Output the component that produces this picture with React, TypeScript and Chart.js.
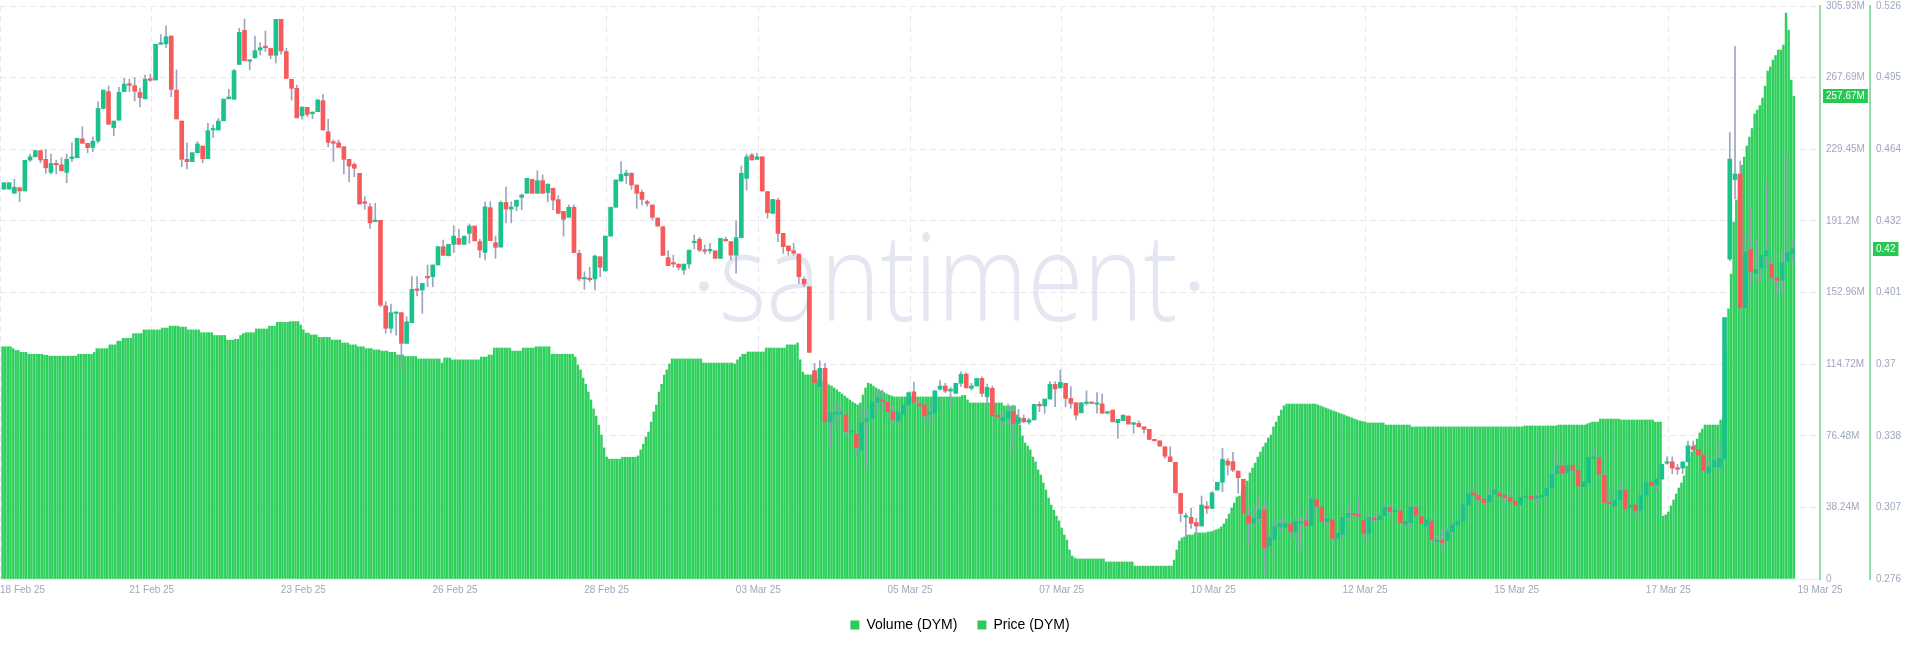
import React, { useEffect, useRef } from 'react';
import { Chart, registerables } from 'chart.js';

Chart.register(...registerables);

// ---- tick labels ----
const X_LABELS = ['18 Feb 25', '21 Feb 25', '23 Feb 25', '26 Feb 25', '28 Feb 25', '03 Mar 25', '05 Mar 25', '07 Mar 25', '10 Mar 25', '12 Mar 25', '15 Mar 25', '17 Mar 25', '19 Mar 25'];
const VOL_TICK_LABELS = ['0', '38.24M', '76.48M', '114.72M', '152.96M', '191.2M', '229.45M', '267.69M', '305.93M'];
const PRICE_TICK_LABELS = ['0.276', '0.307', '0.338', '0.37', '0.401', '0.432', '0.464', '0.495', '0.526'];

const VOL_MAX = 305.93;
const PRICE_MIN = 0.276;
const PRICE_MAX = 0.526;
const HOURS_PER_LABEL = 58;

// ---- Volume (DYM), millions, hourly ----
const VOLUME = [
  124, 124, 124, 124, 123, 122, 122, 121, 121, 121,
  120, 120, 120, 120, 120, 120, 119.5, 119.5, 119, 119,
  119, 119, 119, 119, 119, 119, 119, 119, 119, 120,
  120, 120, 120, 120, 120, 121, 123, 123, 123, 123,
  123, 125, 125, 125, 127, 127, 128.5, 128.5, 128.5, 128.5,
  131, 131, 131, 131, 133, 133, 133, 133, 133, 133,
  133, 134, 134, 134, 135, 135, 135, 135, 134.5, 134.5,
  134.5, 133, 133, 133, 133, 133, 131.5, 131.5, 131.5, 131.5,
  131.5, 130, 130, 130, 130, 130, 127.5, 127.5, 127.5, 128,
  128, 130, 131, 131.5, 131.5, 131.5, 131.5, 133.5, 133.5, 133.5,
  133.5, 133.5, 135, 135, 135, 137, 137, 137, 137, 137,
  137.5, 137.5, 137.5, 137.5, 135.6, 133, 131.3, 131.3, 130.3, 130.3,
  130.3, 129, 129, 129, 129, 129, 127.6, 127.6, 127.6, 127.6,
  126, 126, 126, 125, 125, 125, 124, 124, 124, 123,
  123, 123, 122.3, 122.3, 122.3, 121.7, 121.7, 121.7, 121, 121,
  121, 119.6, 119.6, 119.6, 118.8, 118.8, 118.8, 118.8, 118.8, 117.5,
  117.5, 117.5, 117.5, 117.5, 117.5, 117.5, 117.5, 117.5, 115.3, 118,
  118, 118, 117, 117, 117, 117, 117, 117, 117, 117,
  117, 117, 117, 118.5, 118.5, 118.5, 119.6, 119.6, 123.3, 123.3,
  123.3, 123.3, 123.3, 123.3, 123.3, 121.7, 121.7, 121.7, 121.7, 123.3,
  123.3, 123.3, 123.3, 123.3, 124, 124, 124, 124, 124, 124,
  120, 120, 120, 120, 120, 120, 120, 120, 120, 118.5,
  114.3, 111.6, 107.3, 104, 99.8, 95.6, 90.8, 87, 82.2, 76.9,
  70, 65.1, 64, 64, 64, 64, 64, 65, 65, 65,
  65, 65, 65, 65.7, 68.9, 72, 75.8, 78.5, 83.8, 89.2,
  92.9, 99.8, 104, 108.9, 111.6, 114.8, 117.5, 117.5, 117.5, 117.5,
  117.5, 117.5, 117.5, 117.5, 117.5, 117.5, 117.5, 117.5, 115.3, 115.3,
  115.3, 115.3, 115.3, 115.3, 115.3, 115.3, 115.3, 115.3, 115.3, 115.3,
  114.8, 117, 118.5, 120, 120, 121.2, 121.2, 121.2, 121.2, 121.2,
  121.2, 121.2, 123.3, 123.3, 123.3, 123.3, 123.3, 123.3, 123.3, 123.3,
  125, 125, 125, 125, 126, 117, 110.5, 109, 109, 109,
  109, 109, 106.2, 105.7, 105.2, 104.6, 103.6, 103, 102, 101,
  99.8, 98.8, 97.7, 96.6, 95.6, 94.5, 93.7, 92.9, 94, 98.2,
  102, 104.6, 104.1, 103, 102, 101.2, 100.4, 99.6, 98.8, 98.2,
  97.7, 97.2, 97.2, 97.2, 97.2, 97.2, 97.2, 97.2, 97.2, 97.2,
  97.2, 97.2, 97.2, 97.2, 97.2, 97.2, 97.2, 97.2, 97.2, 97.2,
  97.2, 97.2, 97.2, 97.2, 97.2, 97.2, 97.2, 98, 98, 95.6,
  94, 94, 94, 94, 94, 94, 94, 94, 94, 94,
  94, 94, 94, 92.4, 92.4, 92.4, 92.4, 92.4, 87.6, 82.2,
  76.3, 72.6, 71, 68.9, 65.1, 62.5, 58.2, 55.5, 51.3, 47.5,
  43.2, 39.5, 36.8, 33.6, 31, 27.2, 23.5, 20.8, 15.5, 12.3,
  11.2, 10.7, 10.7, 10.7, 10.7, 10.7, 10.7, 10.7, 10.7, 10.7,
  10.7, 10.7, 9.1, 9.1, 9.1, 9.1, 9.1, 9.1, 9.1, 9.1,
  9.1, 9.1, 9.1, 6.9, 6.9, 6.9, 6.9, 6.9, 6.9, 6.9,
  6.9, 6.9, 6.9, 6.9, 6.9, 6.9, 6.9, 6.9, 10.1, 15.5,
  20.3, 21.9, 22.4, 23.5, 23.5, 23.5, 24.6, 24.6, 24.6, 24.6,
  24.6, 25.1, 25.1, 25.6, 26.2, 26.7, 27.8, 29.4, 32, 34.7,
  37.9, 40.6, 43.8, 44.3, 47, 49.7, 52.3, 56.6, 59.3, 61.9,
  65.1, 67.8, 70.5, 72.6, 75.3, 76.9, 81.2, 83.8, 87, 90.2,
  92.4, 93.4, 93.4, 93.4, 93.4, 93.4, 93.4, 93.4, 93.4, 93.4,
  93.4, 93.4, 93.4, 92.9, 92.4, 91.8, 91.3, 90.8, 90.2, 89.7,
  89.2, 88.6, 88.1, 87.6, 87, 86.5, 86, 85.4, 84.9, 84.4,
  84.1, 83.8, 83.3, 83.3, 83.3, 83.3, 83.3, 83.3, 83.3, 82.2,
  82.2, 82.2, 82.2, 82.2, 82.2, 82.2, 82.2, 82.2, 82.2, 81.2,
  81.2, 81.2, 81.2, 81.2, 81.2, 81.2, 81.2, 81.2, 81.2, 81.2,
  81.2, 81.2, 81.2, 81.2, 81.2, 81.2, 81.2, 81.2, 81.2, 81.2,
  81.2, 81.2, 81.2, 81.2, 81.2, 81.2, 81.2, 81.2, 81.2, 81.2,
  81.2, 81.2, 81.2, 81.2, 81.2, 81.2, 81.2, 81.2, 81.2, 81.2,
  81.2, 81.2, 81.7, 81.7, 81.7, 81.7, 81.7, 81.7, 81.7, 81.7,
  81.7, 81.7, 81.7, 81.7, 81.7, 82.2, 82.2, 82.2, 82.2, 82.2,
  82.2, 82.2, 82.2, 82.2, 82.2, 82.2, 82.8, 83.3, 83.8, 83.8,
  83.8, 85.4, 85.4, 85.4, 85.4, 85.4, 85.4, 85.4, 85.4, 84.9,
  84.9, 84.9, 84.9, 84.9, 84.9, 84.9, 84.9, 84.9, 84.9, 84.9,
  84.9, 84.9, 83.8, 83.8, 83.8, 33.6, 34.2, 35.8, 39, 42.2,
  45.4, 48.6, 51.3, 55, 60.3, 64.6, 67.8, 71.5, 74.7, 78,
  80.1, 82.2, 82.2, 82.2, 82.2, 82.2, 82.2, 84.9, 86, 122,
  144.2, 162.8, 190.6, 202.3, 215.2, 221, 225.3, 231.2, 236, 240.5,
  248.3, 250.4, 252.8, 256.8, 263.2, 271.2, 273.4, 277.1, 279.5, 282.4,
  282.4, 285.1, 302.2, 293.1, 266.4, 257.67,
];

// ---- Price (DYM), 2-hour candles: [open, high, low, close] ----
const PRICE_OHLC = [
  [0.4461, 0.4489, 0.4461, 0.4489], [0.4461, 0.4489, 0.4461, 0.4489], [0.4443, 0.4504, 0.4443, 0.4469], [0.4467, 0.4467, 0.4406, 0.4453],
  [0.4453, 0.4587, 0.4453, 0.4587], [0.4588, 0.4614, 0.4581, 0.4602], [0.4602, 0.4629, 0.4602, 0.4629], [0.4629, 0.4629, 0.4576, 0.4588],
  [0.4591, 0.4635, 0.4530, 0.4554], [0.4534, 0.4614, 0.4526, 0.4573], [0.4573, 0.4588, 0.4527, 0.4567], [0.4567, 0.4598, 0.4541, 0.4541],
  [0.4534, 0.4614, 0.4489, 0.4591], [0.4594, 0.4663, 0.4581, 0.4602], [0.4598, 0.4683, 0.4598, 0.4683], [0.4680, 0.4733, 0.4661, 0.4661],
  [0.4661, 0.4661, 0.4620, 0.4642], [0.4643, 0.4688, 0.4624, 0.4670], [0.4671, 0.4842, 0.4663, 0.4813], [0.4813, 0.4893, 0.4813, 0.4893],
  [0.4886, 0.4911, 0.4744, 0.4744], [0.4729, 0.4758, 0.4694, 0.4758], [0.4762, 0.4905, 0.4762, 0.4883], [0.4886, 0.4944, 0.4886, 0.4919],
  [0.4921, 0.4941, 0.4886, 0.4914], [0.4912, 0.4947, 0.4845, 0.4888], [0.4883, 0.4901, 0.4820, 0.4860], [0.4855, 0.4959, 0.4855, 0.4941],
  [0.4943, 0.4963, 0.4931, 0.4936], [0.4937, 0.5093, 0.4937, 0.5093], [0.5093, 0.5135, 0.5093, 0.5095], [0.5095, 0.5174, 0.5078, 0.5126],
  [0.5129, 0.5129, 0.4864, 0.4896], [0.4893, 0.4981, 0.4767, 0.4767], [0.4758, 0.4758, 0.4559, 0.4591], [0.4591, 0.4663, 0.4549, 0.4581],
  [0.4581, 0.4620, 0.4581, 0.4620], [0.4620, 0.4668, 0.4620, 0.4658], [0.4649, 0.4649, 0.4576, 0.4594], [0.4594, 0.4748, 0.4594, 0.4716],
  [0.4719, 0.4741, 0.4687, 0.4726], [0.4719, 0.4770, 0.4719, 0.4758], [0.4759, 0.4854, 0.4759, 0.4854], [0.4855, 0.4896, 0.4855, 0.4863],
  [0.4853, 0.4984, 0.4853, 0.4978], [0.5005, 0.5163, 0.5005, 0.5145], [0.5154, 0.5203, 0.5021, 0.5021], [0.5019, 0.5024, 0.4981, 0.5024],
  [0.5034, 0.5129, 0.5031, 0.5065], [0.5068, 0.5100, 0.5046, 0.5078], [0.5082, 0.5151, 0.5061, 0.5078], [0.5075, 0.5075, 0.5030, 0.5045],
  [0.5045, 0.5202, 0.5012, 0.5202], [0.5202, 0.5202, 0.5050, 0.5064], [0.5061, 0.5075, 0.4944, 0.4944], [0.4940, 0.4940, 0.4850, 0.4901],
  [0.4901, 0.4915, 0.4772, 0.4772], [0.4781, 0.4819, 0.4766, 0.4819], [0.4818, 0.4818, 0.4777, 0.4787], [0.4790, 0.4799, 0.4768, 0.4797],
  [0.4799, 0.4853, 0.4799, 0.4850], [0.4847, 0.4875, 0.4719, 0.4719], [0.4711, 0.4766, 0.4646, 0.4665], [0.4665, 0.4675, 0.4582, 0.4661],
  [0.4663, 0.4675, 0.4643, 0.4643], [0.4646, 0.4646, 0.4527, 0.4591], [0.4591, 0.4591, 0.4493, 0.4562], [0.4569, 0.4576, 0.4515, 0.4552],
  [0.4530, 0.4530, 0.4396, 0.4396], [0.4405, 0.4428, 0.4373, 0.4399], [0.4384, 0.4399, 0.4290, 0.4314], [0.4319, 0.4399, 0.4319, 0.4326],
  [0.4325, 0.4325, 0.3948, 0.3955], [0.3952, 0.3970, 0.3832, 0.3854], [0.3854, 0.3960, 0.3834, 0.3922], [0.3919, 0.3922, 0.3824, 0.3922],
  [0.3922, 0.3922, 0.3672, 0.3788], [0.3788, 0.3904, 0.3788, 0.3882], [0.3878, 0.4079, 0.3878, 0.4024], [0.4024, 0.4079, 0.3995, 0.4019],
  [0.4021, 0.4050, 0.3919, 0.4050], [0.4080, 0.4130, 0.4035, 0.4074], [0.4079, 0.4130, 0.4035, 0.4130], [0.4130, 0.4210, 0.4130, 0.4210],
  [0.4210, 0.4239, 0.4172, 0.4172], [0.4170, 0.4220, 0.4170, 0.4220], [0.4220, 0.4301, 0.4184, 0.4256], [0.4246, 0.4286, 0.4220, 0.4220],
  [0.4220, 0.4256, 0.4220, 0.4256], [0.4268, 0.4309, 0.4225, 0.4300], [0.4300, 0.4300, 0.4235, 0.4235], [0.4232, 0.4242, 0.4162, 0.4195],
  [0.4185, 0.4406, 0.4152, 0.4384], [0.4380, 0.4406, 0.4236, 0.4236], [0.4227, 0.4256, 0.4159, 0.4207], [0.4208, 0.4409, 0.4208, 0.4403],
  [0.4403, 0.4471, 0.4314, 0.4374], [0.4374, 0.4406, 0.4314, 0.4383], [0.4386, 0.4413, 0.4367, 0.4413], [0.4425, 0.4440, 0.4370, 0.4435],
  [0.4443, 0.4508, 0.4443, 0.4508], [0.4504, 0.4504, 0.4443, 0.4443], [0.4443, 0.4541, 0.4443, 0.4498], [0.4498, 0.4523, 0.4443, 0.4443],
  [0.4446, 0.4483, 0.4406, 0.4483], [0.4465, 0.4465, 0.4370, 0.4413], [0.4415, 0.4432, 0.4355, 0.4355], [0.4364, 0.4364, 0.4256, 0.4329],
  [0.4338, 0.4392, 0.4338, 0.4382], [0.4382, 0.4392, 0.4184, 0.4184], [0.4181, 0.4195, 0.4061, 0.4069], [0.4069, 0.4101, 0.4024, 0.4072],
  [0.4070, 0.4120, 0.4057, 0.4066], [0.4069, 0.4173, 0.4021, 0.4169], [0.4166, 0.4166, 0.4079, 0.4120], [0.4104, 0.4256, 0.4104, 0.4256],
  [0.4256, 0.4382, 0.4256, 0.4382], [0.4382, 0.4501, 0.4382, 0.4501], [0.4496, 0.4581, 0.4496, 0.4526], [0.4520, 0.4544, 0.4486, 0.4531],
  [0.4530, 0.4533, 0.4460, 0.4479], [0.4479, 0.4479, 0.4377, 0.4443], [0.4447, 0.4457, 0.4392, 0.4416], [0.4406, 0.4413, 0.4387, 0.4399],
  [0.4392, 0.4392, 0.4326, 0.4338], [0.4335, 0.4335, 0.4297, 0.4300], [0.4297, 0.4297, 0.4172, 0.4172], [0.4162, 0.4192, 0.4127, 0.4127],
  [0.4137, 0.4173, 0.4120, 0.4134], [0.4134, 0.4134, 0.4108, 0.4120], [0.4108, 0.4134, 0.4089, 0.4134], [0.4134, 0.4195, 0.4115, 0.4195],
  [0.4227, 0.4261, 0.4200, 0.4232], [0.4242, 0.4251, 0.4188, 0.4195], [0.4192, 0.4217, 0.4178, 0.4190], [0.4192, 0.4225, 0.4181, 0.4198],
  [0.4192, 0.4192, 0.4159, 0.4159], [0.4159, 0.4246, 0.4159, 0.4246], [0.4242, 0.4251, 0.4235, 0.4235], [0.4232, 0.4232, 0.4152, 0.4173],
  [0.4173, 0.4323, 0.4094, 0.4249], [0.4249, 0.4562, 0.4249, 0.4530], [0.4508, 0.4614, 0.4457, 0.4602], [0.4610, 0.4617, 0.4588, 0.4588],
  [0.4591, 0.4617, 0.4591, 0.4602], [0.4602, 0.4602, 0.4453, 0.4453], [0.4450, 0.4450, 0.4334, 0.4358], [0.4355, 0.4416, 0.4355, 0.4416],
  [0.4413, 0.4421, 0.4232, 0.4268], [0.4268, 0.4268, 0.4181, 0.4210], [0.4213, 0.4213, 0.4173, 0.4192], [0.4192, 0.4225, 0.4173, 0.4181],
  [0.4178, 0.4178, 0.4050, 0.4079], [0.4068, 0.4077, 0.4035, 0.4047], [0.4035, 0.4035, 0.3749, 0.3749], [0.3669, 0.3701, 0.3616, 0.3616],
  [0.3599, 0.3712, 0.3592, 0.3679], [0.3679, 0.3701, 0.3446, 0.3446], [0.3446, 0.3485, 0.3330, 0.3485], [0.3480, 0.3526, 0.3417, 0.3485],
  [0.3480, 0.3519, 0.3461, 0.3485], [0.3476, 0.3476, 0.3384, 0.3403], [0.3400, 0.3432, 0.3396, 0.3406], [0.3392, 0.3392, 0.3296, 0.3334],
  [0.3323, 0.3515, 0.3323, 0.3442], [0.3446, 0.3500, 0.3243, 0.3461], [0.3461, 0.3533, 0.3461, 0.3533], [0.3531, 0.3584, 0.3483, 0.3551],
  [0.3541, 0.3584, 0.3490, 0.3534], [0.3531, 0.3531, 0.3461, 0.3490], [0.3490, 0.3519, 0.3439, 0.3455], [0.3449, 0.3487, 0.3439, 0.3487],
  [0.3480, 0.3519, 0.3480, 0.3519], [0.3519, 0.3577, 0.3519, 0.3573], [0.3577, 0.3618, 0.3526, 0.3531], [0.3523, 0.3541, 0.3505, 0.3515],
  [0.3519, 0.3519, 0.3454, 0.3472], [0.3480, 0.3533, 0.3427, 0.3485], [0.3485, 0.3581, 0.3485, 0.3581], [0.3588, 0.3628, 0.3584, 0.3602],
  [0.3602, 0.3614, 0.3573, 0.3580], [0.3580, 0.3596, 0.3519, 0.3588], [0.3570, 0.3614, 0.3570, 0.3614], [0.3614, 0.3664, 0.3599, 0.3653],
  [0.3654, 0.3660, 0.3594, 0.3594], [0.3592, 0.3614, 0.3584, 0.3602], [0.3602, 0.3635, 0.3602, 0.3635], [0.3635, 0.3642, 0.3555, 0.3570],
  [0.3555, 0.3610, 0.3523, 0.3596], [0.3592, 0.3602, 0.3472, 0.3472], [0.3472, 0.3472, 0.3461, 0.3468], [0.3451, 0.3490, 0.3436, 0.3464],
  [0.3461, 0.3523, 0.3436, 0.3493], [0.3490, 0.3519, 0.3308, 0.3439], [0.3439, 0.3500, 0.3432, 0.3464], [0.3461, 0.3476, 0.3442, 0.3446],
  [0.3444, 0.3461, 0.3436, 0.3454], [0.3454, 0.3522, 0.3454, 0.3522], [0.3522, 0.3533, 0.3490, 0.3515], [0.3515, 0.3545, 0.3483, 0.3545],
  [0.3545, 0.3621, 0.3545, 0.3609], [0.3609, 0.3621, 0.3512, 0.3589], [0.3594, 0.3672, 0.3592, 0.3618], [0.3614, 0.3614, 0.3512, 0.3548],
  [0.3548, 0.3599, 0.3505, 0.3526], [0.3529, 0.3529, 0.3454, 0.3475], [0.3485, 0.3529, 0.3485, 0.3529], [0.3526, 0.3581, 0.3519, 0.3531],
  [0.3532, 0.3532, 0.3526, 0.3526], [0.3522, 0.3573, 0.3483, 0.3526], [0.3524, 0.3567, 0.3483, 0.3483], [0.3483, 0.3490, 0.3483, 0.3490],
  [0.3497, 0.3497, 0.3446, 0.3446], [0.3442, 0.3457, 0.3374, 0.3457], [0.3451, 0.3475, 0.3451, 0.3475], [0.3471, 0.3471, 0.3436, 0.3436],
  [0.3435, 0.3442, 0.3396, 0.3442], [0.3439, 0.3449, 0.3424, 0.3424], [0.3424, 0.3424, 0.3396, 0.3413], [0.3413, 0.3413, 0.3369, 0.3369],
  [0.3369, 0.3369, 0.3363, 0.3363], [0.3363, 0.3363, 0.3340, 0.3340], [0.3337, 0.3337, 0.3286, 0.3296], [0.3293, 0.3337, 0.3272, 0.3272],
  [0.3269, 0.3269, 0.3136, 0.3136], [0.3134, 0.3134, 0.3010, 0.3046], [0.3030, 0.3046, 0.2944, 0.3035], [0.3029, 0.3068, 0.2981, 0.3003],
  [0.3006, 0.3025, 0.2959, 0.2991], [0.2991, 0.3122, 0.2991, 0.3083], [0.3078, 0.3097, 0.3046, 0.3068], [0.3068, 0.3141, 0.3068, 0.3136],
  [0.3148, 0.3182, 0.3148, 0.3182], [0.3182, 0.3330, 0.3141, 0.3282], [0.3275, 0.3286, 0.3214, 0.3257], [0.3272, 0.3313, 0.3228, 0.3235],
  [0.3231, 0.3231, 0.3134, 0.3202], [0.3195, 0.3195, 0.3046, 0.3046], [0.3035, 0.3068, 0.2908, 0.3003], [0.3003, 0.3083, 0.2988, 0.3025],
  [0.3023, 0.3119, 0.3010, 0.3061], [0.3061, 0.3097, 0.2785, 0.2896], [0.2904, 0.2962, 0.2894, 0.2940], [0.2933, 0.3020, 0.2930, 0.2988],
  [0.2986, 0.3018, 0.2966, 0.3003], [0.2986, 0.3032, 0.2981, 0.3003], [0.2999, 0.2999, 0.2942, 0.2966], [0.2966, 0.3029, 0.2927, 0.3010],
  [0.3003, 0.3025, 0.2886, 0.3010], [0.3014, 0.3061, 0.2992, 0.2992], [0.2992, 0.3122, 0.2992, 0.3109], [0.3105, 0.3105, 0.3061, 0.3078],
  [0.3073, 0.3073, 0.3010, 0.3010], [0.3010, 0.3032, 0.2995, 0.3025], [0.3018, 0.3018, 0.2930, 0.2938], [0.2938, 0.2959, 0.2930, 0.2959],
  [0.2955, 0.3032, 0.2942, 0.3029], [0.3029, 0.3083, 0.3018, 0.3046], [0.3046, 0.3053, 0.3018, 0.3039], [0.3039, 0.3116, 0.3029, 0.3035],
  [0.3014, 0.3020, 0.2927, 0.2959], [0.2959, 0.3039, 0.2959, 0.3029], [0.3025, 0.3032, 0.3010, 0.3018], [0.3018, 0.3049, 0.3018, 0.3035],
  [0.3035, 0.3090, 0.3035, 0.3073], [0.3073, 0.3090, 0.3029, 0.3054], [0.3054, 0.3061, 0.3054, 0.3061], [0.3057, 0.3064, 0.3003, 0.3006],
  [0.3000, 0.3020, 0.2986, 0.3010], [0.3006, 0.3078, 0.2986, 0.3073], [0.3073, 0.3083, 0.3039, 0.3039], [0.3032, 0.3032, 0.3003, 0.3003],
  [0.2991, 0.3020, 0.2977, 0.3018], [0.3013, 0.3020, 0.2930, 0.2930], [0.2923, 0.2952, 0.2918, 0.2930], [0.2930, 0.2974, 0.2894, 0.2920],
  [0.2927, 0.2981, 0.2927, 0.2966], [0.2966, 0.3006, 0.2966, 0.2996], [0.2996, 0.3018, 0.2996, 0.3010], [0.3013, 0.3083, 0.3013, 0.3083],
  [0.3083, 0.3131, 0.3083, 0.3131], [0.3136, 0.3163, 0.3112, 0.3126], [0.3126, 0.3126, 0.3090, 0.3108], [0.3108, 0.3108, 0.3083, 0.3093],
  [0.3097, 0.3156, 0.3090, 0.3126], [0.3131, 0.3156, 0.3131, 0.3148], [0.3136, 0.3136, 0.3122, 0.3122], [0.3126, 0.3126, 0.3090, 0.3116],
  [0.3116, 0.3136, 0.3097, 0.3097], [0.3100, 0.3100, 0.3081, 0.3081], [0.3083, 0.3116, 0.3083, 0.3116], [0.3116, 0.3126, 0.3116, 0.3122],
  [0.3122, 0.3122, 0.3108, 0.3108], [0.3112, 0.3126, 0.3093, 0.3119], [0.3116, 0.3126, 0.3116, 0.3125], [0.3124, 0.3156, 0.3124, 0.3156],
  [0.3156, 0.3232, 0.3156, 0.3218], [0.3218, 0.3315, 0.3218, 0.3254], [0.3254, 0.3272, 0.3218, 0.3221], [0.3224, 0.3254, 0.3224, 0.3254],
  [0.3254, 0.3254, 0.3235, 0.3235], [0.3232, 0.3232, 0.3166, 0.3166], [0.3163, 0.3184, 0.3156, 0.3184], [0.3180, 0.3291, 0.3180, 0.3291],
  [0.3286, 0.3330, 0.3286, 0.3291], [0.3289, 0.3289, 0.3218, 0.3218], [0.3212, 0.3228, 0.3091, 0.3094], [0.3094, 0.3147, 0.3088, 0.3088],
  [0.3078, 0.3104, 0.3071, 0.3104], [0.3104, 0.3184, 0.3104, 0.3147], [0.3147, 0.3147, 0.3067, 0.3067], [0.3072, 0.3083, 0.3072, 0.3083],
  [0.3083, 0.3083, 0.3034, 0.3059], [0.3059, 0.3126, 0.3059, 0.3126], [0.3126, 0.3180, 0.3126, 0.3180], [0.3183, 0.3183, 0.3168, 0.3168],
  [0.3172, 0.3196, 0.3140, 0.3196], [0.3196, 0.3260, 0.3196, 0.3260], [0.3265, 0.3293, 0.3260, 0.3271], [0.3271, 0.3293, 0.3220, 0.3244],
  [0.3244, 0.3260, 0.3217, 0.3239], [0.3244, 0.3271, 0.3220, 0.3271], [0.3271, 0.3362, 0.3271, 0.3341], [0.3338, 0.3362, 0.3309, 0.3325],
  [0.3325, 0.3325, 0.3301, 0.3301], [0.3301, 0.3301, 0.3233, 0.3233], [0.3223, 0.3277, 0.3223, 0.3249], [0.3249, 0.3277, 0.3249, 0.3277],
  [0.3249, 0.3349, 0.3233, 0.3285], [0.3285, 0.3901, 0.3285, 0.3901], [0.4156, 0.4708, 0.4148, 0.4592], [0.4503, 0.5084, 0.4418, 0.4527],
  [0.4527, 0.4584, 0.3943, 0.3943], [0.3943, 0.4269, 0.3943, 0.4188], [0.4197, 0.4390, 0.4043, 0.4100], [0.4092, 0.4245, 0.4059, 0.4111],
  [0.4116, 0.4172, 0.4059, 0.4172], [0.4169, 0.4495, 0.4116, 0.4192], [0.4132, 0.4164, 0.4047, 0.4075], [0.4072, 0.4072, 0.4003, 0.4063],
  [0.4063, 0.4188, 0.4011, 0.4140], [0.4148, 0.4608, 0.4140, 0.4185], [0.4180, 0.4245, 0.4148, 0.4200],
];

// ---- styles ----
const VOL_COLOR = '#2fcf5e';
const UP_COLOR = '#1cc28b';
const DOWN_COLOR = '#f55b5b';
const WICK_COLOR = '#9ca4c0';
const GRID_COLOR = '#e7e9f1';
const TICK_COLOR = '#9fa7bf';
const AXIS_GREEN = '#8fe0a4';
const BADGE_GREEN = '#26c953';
const LEGEND_GREEN = '#2ccc5a';

Chart.defaults.font.family = 'Arial, "Liberation Sans", sans-serif';

const watermarkPlugin = {
  id: 'watermark',
  beforeDatasetsDraw(chart: any) {
    const { ctx, chartArea } = chart;
    ctx.save();
    ctx.fillStyle = 'rgba(214,218,234,0.65)';
    ctx.font = '300 122px "Open Sans", Roboto, sans-serif';
    ctx.textAlign = 'center';
    ctx.textBaseline = 'alphabetic';
    const cx = chartArea.left + chartArea.width * 0.521;
    const by = chartArea.top + chartArea.height * 0.55;
    const text = 'santiment';
    const w = ctx.measureText(text).width;
    const target = chartArea.width * 0.252;
    ctx.save();
    ctx.translate(cx, by);
    ctx.scale(target / w, 1);
    ctx.fillText(text, 0, 0);
    ctx.restore();
    const dotY = by - 35;
    ctx.beginPath();
    ctx.arc(cx - target / 2 - 15, dotY, 5, 0, Math.PI * 2);
    ctx.arc(cx + target / 2 + 17, dotY, 5, 0, Math.PI * 2);
    ctx.fill();
    ctx.restore();
  },
};

const badgePlugin = {
  id: 'badges',
  afterDraw(chart: any) {
    const { ctx } = chart;
    const yv = chart.scales.yVol;
    const yp = chart.scales.yPrice;
    const lastVol = VOLUME[VOLUME.length - 1];
    const lastPrice = PRICE_OHLC[PRICE_OHLC.length - 1][3];
    const draw = (x: number, y: number, text: string) => {
      ctx.save();
      ctx.font = '10px Arial, "Liberation Sans", sans-serif';
      const w = ctx.measureText(text).width + 6;
      ctx.fillStyle = BADGE_GREEN;
      ctx.fillRect(x, Math.round(y) - 7, w, 14);
      ctx.fillStyle = '#ffffff';
      ctx.textAlign = 'left';
      ctx.textBaseline = 'middle';
      ctx.fillText(text, x + 3, Math.round(y) + 0.5);
      ctx.restore();
    };
    draw(yv.left + 3, yv.getPixelForValue(lastVol), lastVol.toFixed(2) + 'M');
    draw(yp.left + 3, yp.getPixelForValue(lastPrice), lastPrice.toFixed(2));
  },
};

export default function App() {
  const ref = useRef<HTMLCanvasElement | null>(null);

  useEffect(() => {
    if (!ref.current) return;
    const volData = VOLUME.map((v, i) => ({ x: i, y: v }));
    const bodyData = PRICE_OHLC.map((c, k) => ({ x: 2 * k + 0.5, y: [c[0], c[3]] }));
    const wickData = PRICE_OHLC.map((c, k) => ({ x: 2 * k + 0.5, y: [c[2], c[1]] }));
    const bodyColors = PRICE_OHLC.map((c) => (c[3] >= c[0] ? UP_COLOR : DOWN_COLOR));

    const yPad = (s: any) => {
      s.width = 50;
      s.paddingTop = 6;
      s.paddingBottom = 6;
    };

    const chart = new Chart(ref.current, {
      type: 'bar',
      data: {
        datasets: [
          {
            label: 'Volume (DYM)',
            data: volData as any,
            xAxisID: 'x',
            yAxisID: 'yVol',
            backgroundColor: VOL_COLOR,
            barThickness: 1.8,
            grouped: false,
            order: 3,
          } as any,
          {
            label: 'Price wicks',
            data: wickData as any,
            xAxisID: 'x',
            yAxisID: 'yPrice',
            backgroundColor: WICK_COLOR,
            barThickness: 1,
            grouped: false,
            order: 2,
          } as any,
          {
            label: 'Price (DYM)',
            data: bodyData as any,
            xAxisID: 'x',
            yAxisID: 'yPrice',
            backgroundColor: bodyColors,
            barThickness: 4,
            minBarLength: 1.5,
            grouped: false,
            order: 1,
          } as any,
        ],
      },
      options: {
        responsive: false,
        animation: false,
        events: [],
        layout: { padding: { left: 0, right: 0, top: 0, bottom: 5 } },
        plugins: {
          tooltip: { enabled: false },
          legend: {
            position: 'bottom',
            onClick: () => {},
            labels: {
              boxWidth: 9,
              boxHeight: 9,
              padding: 20,
              color: '#222222',
              font: { size: 14 },
              generateLabels: () => [
                { text: 'Volume (DYM)', fillStyle: LEGEND_GREEN, strokeStyle: LEGEND_GREEN, lineWidth: 0, hidden: false, datasetIndex: 0 },
                { text: 'Price (DYM)', fillStyle: LEGEND_GREEN, strokeStyle: LEGEND_GREEN, lineWidth: 0, hidden: false, datasetIndex: 2 },
              ] as any,
            },
          },
        },
        scales: {
          x: {
            type: 'linear',
            offset: false,
            min: -1,
            max: -1 + HOURS_PER_LABEL * (X_LABELS.length - 1),
            afterBuildTicks: (s: any) => {
              // one extra unlabeled tick past the end keeps the last date label centred on its tick
              s.ticks = [...X_LABELS, ''].map((_, k) => ({ value: -1 + HOURS_PER_LABEL * k }));
            },
            afterFit: (s: any) => {
              s.height = 19;
              s.paddingLeft = 0;
              s.paddingRight = 0;
            },
            ticks: {
              autoSkip: false,
              maxRotation: 0,
              align: 'inner',
              padding: 5,
              color: TICK_COLOR,
              font: { size: 10 },
              callback: (_v: any, i: number) => (i < X_LABELS.length ? X_LABELS[i] : ''),
            },
            grid: { display: true, offset: false, drawTicks: false, color: GRID_COLOR, lineWidth: 1 },
            border: { display: true, color: '#eceef4', width: 1, dash: [6, 4] },
          } as any,
          yVol: {
            type: 'linear',
            position: 'right',
            weight: 0,
            min: 0,
            max: VOL_MAX,
            afterBuildTicks: (s: any) => {
              s.ticks = VOL_TICK_LABELS.map((_, i) => ({ value: (VOL_MAX * i) / (VOL_TICK_LABELS.length - 1) }));
            },
            afterFit: yPad,
            ticks: {
              padding: 6,
              color: TICK_COLOR,
              font: { size: 10 },
              callback: (_v: any, i: number) => VOL_TICK_LABELS[i],
            },
            grid: { display: true, drawTicks: false, color: GRID_COLOR, lineWidth: 1 },
            border: { display: true, color: AXIS_GREEN, width: 2, dash: [6, 4] },
          } as any,
          yPrice: {
            type: 'linear',
            position: 'right',
            weight: 1,
            min: PRICE_MIN,
            max: PRICE_MAX,
            afterBuildTicks: (s: any) => {
              s.ticks = PRICE_TICK_LABELS.map((_, i) => ({ value: PRICE_MIN + ((PRICE_MAX - PRICE_MIN) * i) / (PRICE_TICK_LABELS.length - 1) }));
            },
            afterFit: yPad,
            ticks: {
              padding: 6,
              color: TICK_COLOR,
              font: { size: 10 },
              callback: (_v: any, i: number) => PRICE_TICK_LABELS[i],
            },
            grid: { display: false, drawTicks: false },
            border: { display: true, color: AXIS_GREEN, width: 2 },
          } as any,
        },
      },
      plugins: [watermarkPlugin, badgePlugin],
    });

    return () => {
      chart.destroy();
    };
  }, []);

  return (
    <div style={{ position: 'absolute', left: 0, top: 0, width: 1920, height: 647, background: '#ffffff' }}>
      <canvas ref={ref} width={1920} height={647} style={{ display: 'block' }} />
    </div>
  );
}
